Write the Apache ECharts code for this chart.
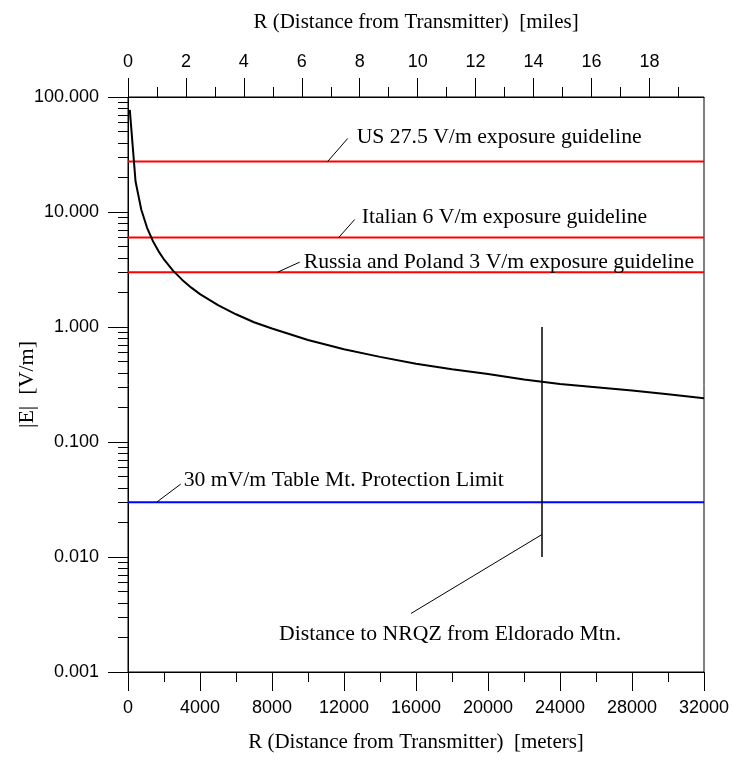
<!DOCTYPE html>
<html>
<head>
<meta charset="utf-8">
<script src="https://cdn.jsdelivr.net/npm/echarts@6/dist/echarts.min.js"></script>
<style>
  html, body { margin: 0; padding: 0; background: #fff; }
  #chart { width: 733px; height: 759px; }
</style>
</head>
<body>
<div id="chart"></div>
<script>
// ---- axes ----
const METERS_PER_MILE = 1609.344;
const X_MAX_M = 32000;
const Y_MIN = 0.001;
const Y_MAX = 100;
const milesMajorTicks = [0, 2, 4, 6, 8, 10, 12, 14, 16, 18];
const milesMinorTicks = [1, 3, 5, 7, 9, 11, 13, 15, 17, 19];
const yDecadeTicks = [0.001, 0.01, 0.1, 1, 10, 100];
const yMinorTicks = [
  0.002, 0.003, 0.004, 0.005, 0.006, 0.007, 0.008, 0.009,
  0.02, 0.03, 0.04, 0.05, 0.06, 0.07, 0.08, 0.09,
  0.2, 0.3, 0.4, 0.5, 0.6, 0.7, 0.8, 0.9,
  2, 3, 4, 5, 6, 7, 8, 9,
  20, 30, 40, 50, 60, 70, 80, 90
];

// ---- field strength vs. distance ----
const distanceM = [100, 420, 740, 1060, 1380, 1700, 2020, 2500, 3000, 3500, 4000, 5000,
  6000, 7000, 8000, 10000, 12000, 14000, 16000, 18000, 20000, 22000, 24000, 26000,
  28000, 30000, 32000];
const fieldVm = [77.3, 18.4, 10.45, 7.29, 5.60, 4.55, 3.83, 3.09, 2.58, 2.21, 1.93, 1.55,
  1.29, 1.10, 0.97, 0.77, 0.64, 0.55, 0.48, 0.43, 0.39, 0.35, 0.32, 0.30,
  0.28, 0.26, 0.24];

// ---- limits ----
const guidelineUS = 27.5;
const guidelineItaly = 6;
const guidelineRussiaPoland = 3;
const protectionLimit = 0.03;
const nrqzDistanceM = 23000;
const nrqzSpan = [0.01, 1];

const SERIF = '"Liberation Serif", "Times New Roman", serif';
const SANS = '"Liberation Sans", Arial, sans-serif';

const chart = echarts.init(document.getElementById('chart'), null, { renderer: 'canvas' });

const hLine = (v) => [[0, v], [X_MAX_M, v]];
const axisLineStyle = { color: '#000', width: 1 };

const option = {
  animation: false,
  backgroundColor: '#fff',
  grid: {
    left: 128, right: 29, top: 97, bottom: 87,
    show: true, borderColor: '#000', borderWidth: 1,
    outerBoundsMode: 'none'
  },
  xAxis: [
    {
      type: 'value', position: 'bottom', min: 0, max: X_MAX_M, interval: 4000,
      axisLine: { show: true, lineStyle: axisLineStyle },
      axisTick: { show: true, length: 19, lineStyle: axisLineStyle },
      minorTick: { show: true, splitNumber: 2, length: 10, lineStyle: axisLineStyle },
      axisLabel: {
        color: '#000', fontFamily: SANS, fontSize: 18, margin: 27,
        formatter: (v) => String(Math.round(v))
      },
      splitLine: { show: false },
      name: 'R (Distance from Transmitter)  [meters]',
      nameLocation: 'middle', nameGap: 60, nameMoveOverlap: false,
      nameTextStyle: { color: '#000', fontFamily: SERIF, fontSize: 21 }
    },
    {
      type: 'value', position: 'top', min: 0, max: X_MAX_M / METERS_PER_MILE,
      axisLine: { show: true, lineStyle: axisLineStyle },
      axisTick: { show: true, length: 19, lineStyle: axisLineStyle, customValues: milesMajorTicks },
      axisLabel: {
        color: '#000', fontFamily: SANS, fontSize: 18, margin: 26, customValues: milesMajorTicks,
        formatter: (v) => String(Math.round(v))
      },
      splitLine: { show: false },
      name: 'R (Distance from Transmitter)  [miles]',
      nameLocation: 'middle', nameGap: 64, nameMoveOverlap: false,
      nameTextStyle: { color: '#000', fontFamily: SERIF, fontSize: 21 }
    },
    {
      type: 'value', position: 'top', min: 0, max: X_MAX_M / METERS_PER_MILE,
      axisLine: { show: false },
      axisTick: { show: true, length: 10, lineStyle: axisLineStyle, customValues: milesMinorTicks },
      axisLabel: { show: false },
      splitLine: { show: false }
    }
  ],
  yAxis: [
    {
      type: 'log', logBase: 10, min: Y_MIN, max: Y_MAX, position: 'left',
      axisLine: { show: true, lineStyle: axisLineStyle },
      axisTick: { show: true, length: 20, lineStyle: axisLineStyle, customValues: yDecadeTicks },
      axisLabel: {
        color: '#000', fontFamily: SANS, fontSize: 18, margin: 29, customValues: yDecadeTicks,
        formatter: (v) => Number(v).toFixed(3)
      },
      splitLine: { show: false },
      name: '|E|  [V/m]',
      nameLocation: 'middle', nameGap: 90, nameRotate: 90, nameMoveOverlap: false,
      nameTextStyle: { color: '#000', fontFamily: SERIF, fontSize: 22 }
    },
    {
      type: 'log', logBase: 10, min: Y_MIN, max: Y_MAX, position: 'left',
      axisLine: { show: false },
      axisTick: { show: true, length: 10, lineStyle: axisLineStyle, customValues: yMinorTicks },
      axisLabel: { show: false },
      splitLine: { show: false }
    }
  ],
  series: [
    {
      name: 'US', type: 'line', xAxisIndex: 0, yAxisIndex: 0, data: hLine(guidelineUS),
      symbol: 'none', lineStyle: { color: '#ff0000', width: 2 }, z: 3
    },
    {
      name: 'Italy', type: 'line', xAxisIndex: 0, yAxisIndex: 0, data: hLine(guidelineItaly),
      symbol: 'none', lineStyle: { color: '#ff0000', width: 2 }, z: 3
    },
    {
      name: 'Russia/Poland', type: 'line', xAxisIndex: 0, yAxisIndex: 0, data: hLine(guidelineRussiaPoland),
      symbol: 'none', lineStyle: { color: '#ff0000', width: 2 }, z: 3
    },
    {
      name: 'Table Mt.', type: 'line', xAxisIndex: 0, yAxisIndex: 0, data: hLine(protectionLimit),
      symbol: 'none', lineStyle: { color: '#0000ff', width: 2 }, z: 3
    },
    {
      name: '|E|', type: 'line', xAxisIndex: 0, yAxisIndex: 0,
      data: distanceM.map((r, i) => [r, fieldVm[i]]),
      symbol: 'none', lineStyle: { color: '#000', width: 2 }, z: 4
    },
    {
      name: 'NRQZ', type: 'line', xAxisIndex: 0, yAxisIndex: 0,
      data: nrqzSpan.map((v) => [nrqzDistanceM, v]),
      symbol: 'none', lineStyle: { color: '#000', width: 1.5 }, z: 5
    }
  ]
};

chart.setOption(option);

// Callouts: anchored on a data point, leader and text offset in pixels.
const callouts = [
  { text: 'US 27.5 V/m exposure guideline', at: [11094, guidelineUS], lead: [20, -23], textAt: [29, -24] },
  { text: 'Italian 6 V/m exposure guideline', at: [11706, guidelineItaly], lead: [16, -18], textAt: [23, -20] },
  { text: 'Russia and Poland 3 V/m exposure guideline', at: [8317, guidelineRussiaPoland], lead: [22, -10], textAt: [26, -10] },
  { text: '30 mV/m Table Mt. Protection Limit', at: [1594, protectionLimit], lead: [24, -18], textAt: [27, -22] },
  { text: 'Distance to NRQZ from Eldorado Mtn.', at: [nrqzDistanceM, 0.0157], lead: [-131, 79], textAt: [-263, 100] }
];

const graphics = [];
callouts.forEach((c) => {
  const p = chart.convertToPixel({ xAxisIndex: 0, yAxisIndex: 0 }, c.at);
  graphics.push({
    type: 'line', silent: true, z: 10,
    shape: { x1: p[0], y1: p[1], x2: p[0] + c.lead[0], y2: p[1] + c.lead[1] },
    style: { stroke: '#000', lineWidth: 1 }
  });
  graphics.push({
    type: 'text', silent: true, z: 10,
    x: p[0] + c.textAt[0], y: p[1] + c.textAt[1],
    style: {
      text: c.text, fill: '#000', font: '21.7px ' + SERIF,
      align: 'left', verticalAlign: 'middle'
    }
  });
});
chart.setOption({ graphic: graphics });
</script>
</body>
</html>
